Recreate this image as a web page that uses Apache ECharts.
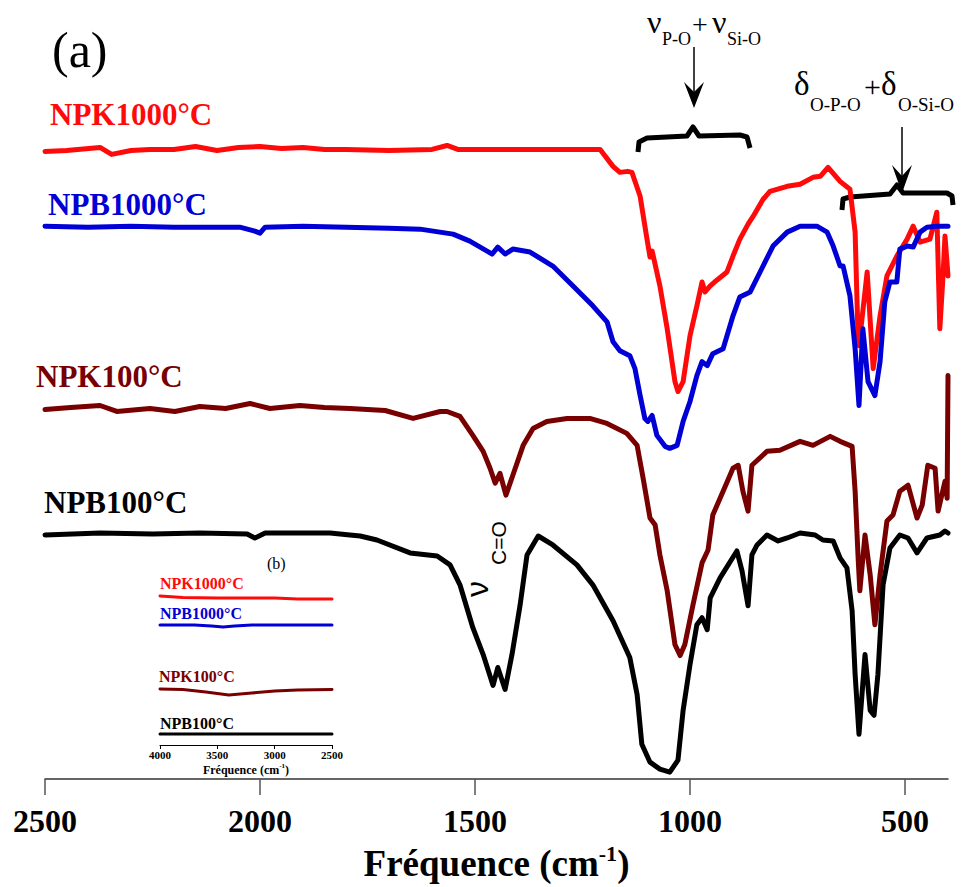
<!doctype html>
<html lang="fr">
<head>
<meta charset="utf-8">
<title>Spectres IR NPK / NPB</title>
<script src="https://cdn.jsdelivr.net/npm/echarts@6/dist/echarts.min.js"></script>
<style>
  html, body { margin: 0; padding: 0; background: #fff; }
  #chart { width: 962px; height: 887px; }
</style>
</head>
<body>
<div id="chart"></div>
<script>
// (a) spectres 2500-400 cm-1 : [nombre d'onde, transmittance décalée (u.a.)]
var npk1000 = [[2500,630],[2450,631],[2372,634],[2345,627],[2300,631],[2256,632],[2200,632],[2150,635],[2100,631],[2050,634],[2000,635],[1950,633],[1900,634],[1850,632],[1800,632],[1700,631],[1600,632],[1565,636],[1540,632],[1450,632],[1350,632],[1250,632],[1209,632],[1179,615],[1163,609],[1145,610],[1135,609],[1116,585],[1100,542],[1093,524],[1088,530],[1070,495],[1053,452],[1035,399],[1028,389],[1016,399],[1000,445],[984,475],[972,499],[965,489],[953,495],[937,501],[914,509],[900,525],[884,542],[865,557],[853,565],[830,582],[814,590],[774,595],[744,597],[714,604],[697,605],[679,614],[651,600],[628,592],[616,549],[609,439],[607,435],[588,509],[574,412],[558,465],[542,505],[519,525],[495,542],[481,555],[465,539],[442,542],[426,569],[419,452],[412,502],[407,545],[400,505]];
var npb1000 = [[2500,555],[2400,554],[2300,555],[2200,554],[2100,554],[2047,554],[2012,550],[2000,548],[1988,554],[1900,555],[1800,554],[1700,553],[1628,552],[1551,547],[1512,540],[1460,527],[1447,534],[1430,527],[1412,532],[1372,529],[1319,515],[1272,495],[1226,475],[1193,459],[1179,439],[1163,430],[1140,425],[1128,412],[1116,385],[1105,362],[1098,359],[1088,365],[1077,345],[1058,334],[1047,332],[1030,335],[1016,359],[1000,379],[984,405],[972,419],[960,415],[947,427],[923,432],[900,465],[884,484],[860,489],[837,509],[807,535],[774,549],[744,555],[705,555],[681,549],[667,535],[651,515],[644,515],[628,485],[616,432],[607,375],[598,452],[586,399],[570,385],[558,419],[547,479],[535,499],[519,499],[512,532],[495,535],[481,534],[465,549],[449,554],[426,555],[400,555]];
var npk100 = [[2500,371],[2440,373],[2372,375],[2333,369],[2256,372],[2198,369],[2140,374],[2080,372],[2023,377],[1977,372],[1907,375],[1850,373],[1791,372],[1709,370],[1644,362],[1581,369],[1565,369],[1535,364],[1505,345],[1481,329],[1465,312],[1453,297],[1442,307],[1428,285],[1412,305],[1388,335],[1365,352],[1333,359],[1286,362],[1233,362],[1193,357],[1147,347],[1123,335],[1109,302],[1093,262],[1081,255],[1070,225],[1053,189],[1035,135],[1023,124],[1012,135],[993,175],[972,217],[958,230],[947,265],[923,289],[900,312],[888,315],[877,289],[865,269],[856,315],[821,329],[791,330],[744,339],[714,335],[674,344],[651,339],[623,334],[616,289],[609,222],[605,189],[593,245],[581,205],[570,155],[558,205],[542,259],[528,265],[512,289],[493,295],[472,262],[460,275],[447,315],[430,312],[423,269],[407,299],[402,282],[400,405]];
var npb100 = [[2500,245],[2372,247],[2250,246],[2140,247],[2030,246],[2012,242],[1988,247],[1900,247],[1837,247],[1791,245],[1767,244],[1728,240],[1651,227],[1588,224],[1558,215],[1535,195],[1505,152],[1481,125],[1458,94],[1447,112],[1430,90],[1414,125],[1395,175],[1379,225],[1353,244],[1319,235],[1263,215],[1226,195],[1179,159],[1140,122],[1123,85],[1112,35],[1093,17],[1070,10],[1047,7],[1028,19],[1016,69],[1000,115],[984,155],[972,162],[960,150],[953,182],[930,202],[891,229],[879,209],[865,174],[856,225],[844,235],[821,245],[795,239],[774,242],[744,247],[709,245],[691,240],[667,239],[651,222],[635,212],[623,169],[616,105],[607,45],[593,125],[581,69],[572,64],[563,105],[551,195],[535,232],[512,245],[493,242],[472,227],[449,242],[419,245],[407,249],[400,247]];

// (b) encart 4000-2500 cm-1
var insetNpk1000 = [[4000,149],[3800,147.5],[3500,147],[3200,147],[3000,147],[2800,146],[2500,146]];
var insetNpb1000 = [[4000,120],[3700,120],[3550,119],[3450,118],[3350,119],[3200,120],[2500,120]];
var insetNpk100 = [[4000,56],[3800,55.5],[3600,53],[3400,50],[3200,52],[3000,54],[2800,55],[2500,55.5]];
var insetNpb100 = [[4000,11],[3500,11],[3000,11],[2500,11]];

var sampleNames = ['NPK1000°C', 'NPB1000°C', 'NPK100°C', 'NPB100°C'];
var sampleColors = ['#ff0a0a', '#0000d6', '#780000', '#000000'];
var mainTicks = [2500, 2000, 1500, 1000, 500];
var insetTicks = [4000, 3500, 3000, 2500];

var SERIF = '"Liberation Serif", "Times New Roman", serif';
var SANS = '"Liberation Sans", Arial, sans-serif';

var chart = echarts.init(document.getElementById('chart'), null, { renderer: 'svg' });

function lineSeries(name, data, color, width, idx) {
  return {
    name: name, type: 'line', data: data,
    xAxisIndex: idx, yAxisIndex: idx,
    showSymbol: false, silent: true, animation: false,
    lineStyle: { color: color, width: width, join: 'round', cap: 'round' }
  };
}

function txt(x, y, text, font, color) {
  return {
    type: 'text', x: x, y: y, silent: true,
    style: { text: text, font: font, fill: color || '#000', textAlign: 'left', textVerticalAlign: 'middle' }
  };
}

function plain(v) { return String(v); }

var mainData = [npk1000, npb1000, npk100, npb100];
var insetData = [insetNpk1000, insetNpb1000, insetNpk100, insetNpb100];
var series = [];
mainData.forEach(function (d, i) { series.push(lineSeries(sampleNames[i], d, sampleColors[i], 5, 0)); });
insetData.forEach(function (d, i) { series.push(lineSeries(sampleNames[i] + ' (b)', d, sampleColors[i], 3, 1)); });

var labelFont = 'bold 31px ' + SERIF;
var insetFont = 'bold 16px ' + SERIF;

var graphics = [
  txt(52, 50, '(a)', '50px ' + SERIF),
  // étiquettes (a)
  txt(50, 114, sampleNames[0], labelFont, sampleColors[0]),
  txt(48, 204, sampleNames[1], labelFont, sampleColors[1]),
  txt(36, 376, sampleNames[2], labelFont, sampleColors[2]),
  txt(44, 502, sampleNames[3], labelFont, sampleColors[3]),
  // étiquettes (b)
  txt(267, 563, '(b)', '16px ' + SERIF),
  txt(160, 583, sampleNames[0], insetFont, sampleColors[0]),
  txt(160, 613, sampleNames[1], insetFont, sampleColors[1]),
  txt(159, 676, sampleNames[2], insetFont, sampleColors[2]),
  txt(160, 723, sampleNames[3], insetFont, sampleColors[3]),
  // ν P-O + ν Si-O
  txt(647, 22, 'ν', '32px ' + SERIF),
  txt(662, 39, 'P-O', '18px ' + SERIF),
  txt(692, 24, '+', '28px ' + SERIF),
  txt(712, 22, 'ν', '32px ' + SERIF),
  txt(727, 39, 'Si-O', '18px ' + SERIF),
  { type: 'line', silent: true, shape: { x1: 694, y1: 47, x2: 694, y2: 95 }, style: { stroke: '#000', lineWidth: 1.5 } },
  { type: 'polygon', silent: true, shape: { points: [[694, 108], [684, 82], [694, 92], [704, 82]] }, style: { fill: '#000' } },
  { type: 'polyline', silent: true, shape: { points: [[638, 152], [639, 142], [647, 138], [687, 136], [693, 127], [699, 136], [740, 135], [747, 137], [750, 148]] },
    style: { stroke: '#000', lineWidth: 5, fill: null, lineJoin: 'round' } },
  // δ O-P-O + δ O-Si-O
  txt(794, 84, 'δ', '33px ' + SERIF),
  txt(810, 104, 'O-P-O', '19px ' + SERIF),
  txt(864, 86, '+', '30px ' + SERIF),
  txt(881, 84, 'δ', '33px ' + SERIF),
  txt(898, 104, 'O-Si-O', '19px ' + SERIF),
  { type: 'line', silent: true, shape: { x1: 902, y1: 127, x2: 902, y2: 180 }, style: { stroke: '#000', lineWidth: 1.5 } },
  { type: 'polygon', silent: true, shape: { points: [[902, 193], [892, 165], [902, 176], [912, 165]] }, style: { fill: '#000' } },
  { type: 'polyline', silent: true, shape: { points: [[842, 210], [843, 199], [850, 197], [890, 194], [897, 185], [903, 193], [947, 193], [952, 196], [953, 205]] },
    style: { stroke: '#000', lineWidth: 5, fill: null, lineJoin: 'round' } },
  // ν C=O (vertical)
  { type: 'text', silent: true, x: 477, y: 589, rotation: Math.PI / 2,
    style: { text: 'ν', font: '32px ' + SANS, fill: '#000', textAlign: 'center', textVerticalAlign: 'middle' } },
  { type: 'text', silent: true, x: 498, y: 543, rotation: Math.PI / 2,
    style: { text: 'C=O', font: '21px ' + SANS, fill: '#000', textAlign: 'center', textVerticalAlign: 'middle' } }
];

var option = {
  backgroundColor: '#fff',
  animation: false,
  grid: [
    { left: 45, right: 14, top: 0, bottom: 105 },
    { left: 160, right: 630, top: 560, bottom: 142 }
  ],
  xAxis: [
    {
      type: 'value', gridIndex: 0, inverse: true, min: 400, max: 2500,
      splitLine: { show: false },
      axisLine: { lineStyle: { color: '#333', width: 1.5 } },
      axisTick: { length: 16, customValues: mainTicks, lineStyle: { color: '#555', width: 1.5 } },
      axisLabel: { customValues: mainTicks, formatter: plain, margin: 26, color: '#000', fontFamily: SERIF, fontWeight: 'bold', fontSize: 32 },
      name: '{a|Fréquence (cm}{s|-1}{a|)}',
      nameLocation: 'middle', nameGap: 60,
      nameTextStyle: {
        rich: {
          a: { fontFamily: SERIF, fontWeight: 'bold', fontSize: 37, color: '#000', lineHeight: 40, verticalAlign: 'bottom' },
          s: { fontFamily: SERIF, fontWeight: 'bold', fontSize: 22, color: '#000', lineHeight: 40, verticalAlign: 'top' }
        }
      }
    },
    {
      type: 'value', gridIndex: 1, inverse: true, min: 2500, max: 4000,
      splitLine: { show: false },
      axisLine: { lineStyle: { color: '#000', width: 1.2 } },
      axisTick: { length: 4, customValues: insetTicks, lineStyle: { color: '#000', width: 1 } },
      axisLabel: { customValues: insetTicks, formatter: plain, margin: 4, color: '#000', fontFamily: SERIF, fontWeight: 'bold', fontSize: 11 },
      name: '{a|Fréquence (cm}{s|-1}{a|)}',
      nameLocation: 'middle', nameGap: 17,
      nameTextStyle: {
        rich: {
          a: { fontFamily: SERIF, fontWeight: 'bold', fontSize: 12, color: '#000', lineHeight: 14, verticalAlign: 'bottom' },
          s: { fontFamily: SERIF, fontWeight: 'bold', fontSize: 7, color: '#000', lineHeight: 14, verticalAlign: 'top' }
        }
      }
    }
  ],
  yAxis: [
    { type: 'value', gridIndex: 0, min: 0, max: 782, show: false },
    { type: 'value', gridIndex: 1, min: 0, max: 185, show: false }
  ],
  series: series,
  graphic: graphics
};

chart.setOption(option);
</script>
</body>
</html>
